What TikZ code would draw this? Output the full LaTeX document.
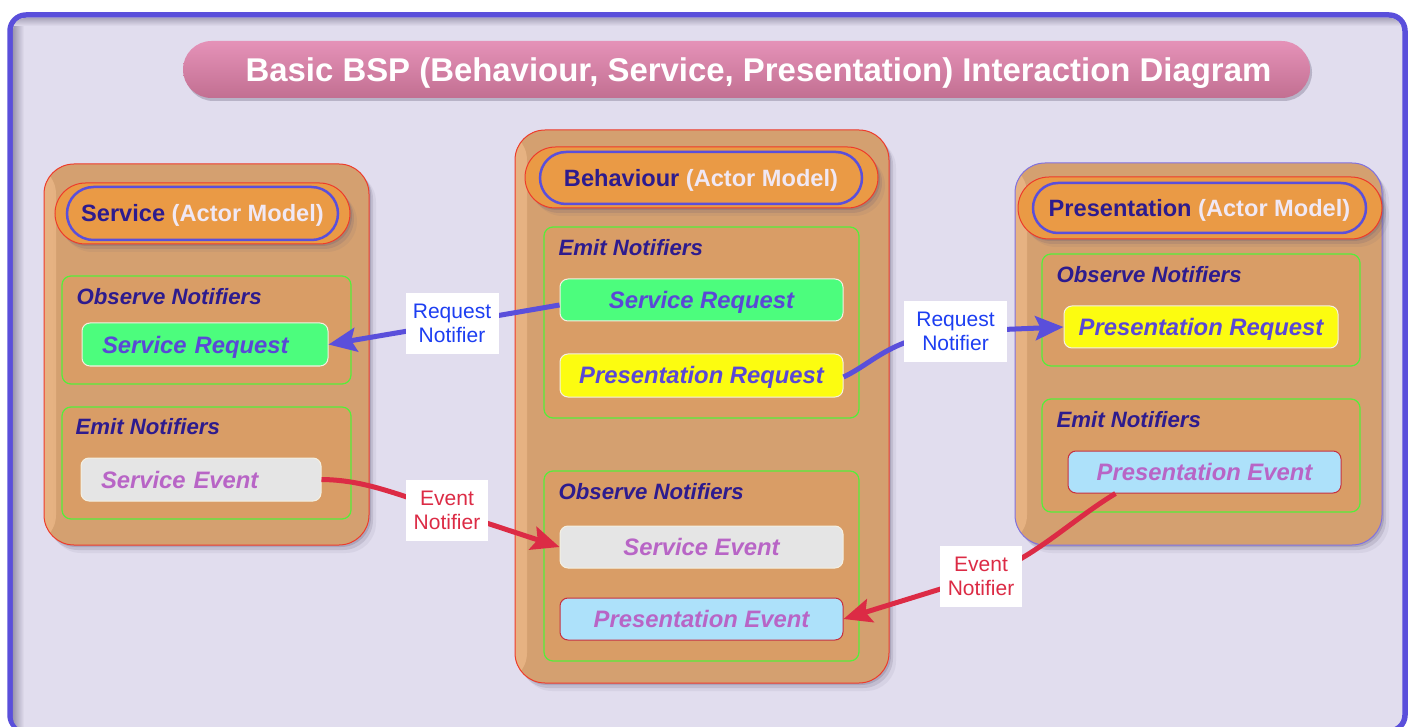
\documentclass[tikz,border=0pt]{standalone}
\usepackage{fontspec}
\setmainfont{Liberation Sans}
\usetikzlibrary{arrows.meta,shapes.misc,shadows,calc}

% palette
\definecolor{framec}{HTML}{5A4FDB}
\definecolor{bgc}{HTML}{E1DDEE}
\definecolor{titlec}{HTML}{CC7599}
\definecolor{titletop}{HTML}{E592B8}
\definecolor{boxfill}{HTML}{D4A070}
\definecolor{boxedge}{HTML}{E6B282}
\definecolor{boxred}{HTML}{EE3B2B}
\definecolor{presborder}{HTML}{8071E0}
\definecolor{pillc}{HTML}{EA9A45}
\definecolor{navy}{HTML}{2D1B8E}
\definecolor{lighttxt}{HTML}{F0E8F4}
\definecolor{grpgreen}{HTML}{55EE3A}
\definecolor{grpfill}{HTML}{D99D66}
\definecolor{reqgreen}{HTML}{4CFD7D}
\definecolor{reqyellow}{HTML}{FCFC10}
\definecolor{grayfill}{HTML}{E5E5E5}
\definecolor{lblue}{HTML}{ADE1FA}
\definecolor{itemred}{HTML}{C7303F}
\definecolor{itemwhite}{HTML}{F4F0E2}
\definecolor{itemtxt}{HTML}{5A48D6}
\definecolor{evtxt}{HTML}{B865C6}
\definecolor{reqtxt}{HTML}{1D3EF2}
\definecolor{evred}{HTML}{DC2B45}
\definecolor{shadowc}{HTML}{5A5470}

\newcommand\actorhdr[1]{{\color{navy}#1} {\color{lighttxt}(Actor Model)}}

\begin{document}
\begin{tikzpicture}[x=1pt,y=-1pt,
  softshadow/.style={
    general shadow={shadow xshift=2pt,shadow yshift=-2pt,fill=shadowc,opacity=.22},
    general shadow={shadow xshift=4pt,shadow yshift=-5pt,fill=shadowc,opacity=.16},
    general shadow={shadow xshift=7pt,shadow yshift=-8pt,fill=shadowc,opacity=.08}},
  actorbox/.style={rectangle,rounded corners=30pt,fill=boxfill,draw=boxred,
    line width=1pt,inner sep=0pt,softshadow,
    path picture={\shade[left color=boxedge,right color=boxfill]
      (path picture bounding box.north west) rectangle
      ([xshift=12pt]path picture bounding box.south west);}},
  hdrout/.style={rounded rectangle,fill=pillc,draw=boxred,line width=1pt,
    inner sep=0pt,softshadow},
  hdrin/.style={rounded rectangle,fill=pillc,draw=framec,line width=2.5pt,
    inner sep=0pt,font=\fontsize{23.6}{28}\selectfont\bfseries,
    text height=17pt,text depth=0pt},
  grp/.style={rectangle,rounded corners=9pt,draw=grpgreen,line width=1.2pt,
    fill=grpfill,inner sep=0pt},
  glabel/.style={anchor=base west,inner sep=0pt,text=navy,
    font=\fontsize{22.2}{26}\selectfont\bfseries\itshape},
  item/.style={rectangle,rounded corners=8pt,draw=itemwhite,line width=1pt,
    inner sep=0pt,minimum height=42pt,text=itemtxt,
    font=\fontsize{23.8}{28}\selectfont\bfseries\itshape,
    text height=17pt,text depth=0pt},
  evitem/.style={item,text=evtxt},
  lbl/.style={fill=white,inner sep=0pt,minimum height=61pt,align=center,
    font=\fontsize{21}{24}\selectfont},
  reqarrow/.style={draw=framec,line width=5pt,
    -{Stealth[length=28pt,width=24pt,inset=5pt]}},
  evarrow/.style={draw=evred,line width=5pt,
    -{Stealth[length=28pt,width=24pt,inset=5pt]}},
]
\useasboundingbox (0,0) rectangle (1414,727);
\fill[white] (0,0) rectangle (1414,727);

% outer frame with a soft inner shadow along the top and left
\draw[framec,line width=5.5pt,fill=bgc,rounded corners=16pt] (10,15) rectangle (1405,731);
\begin{scope}
  \clip[rounded corners=13pt] (12.75,17.75) rectangle (1402.25,730);
  \shade[left color=shadowc!55!bgc,right color=bgc] (12,15) rectangle (24,730);
  \shade[top color=shadowc!55!bgc,bottom color=bgc] (12,15) rectangle (1405,26);
\end{scope}

% title
\node[rounded rectangle,minimum width=1127pt,minimum height=57pt,inner sep=0pt,
  top color=titletop,middle color=titlec,bottom color=titlec!95!black,
  general shadow={shadow xshift=2pt,shadow yshift=-3pt,fill=shadowc,opacity=.3}]
  (ttlbg) at (746.5,69.5) {};
\node[text=white,inner sep=0pt,font=\fontsize{32.9}{38}\selectfont\bfseries,
  text height=24pt,text depth=0pt]
  (ttl) at (758.5,69.5) {Basic BSP (Behaviour, Service, Presentation) Interaction Diagram};

% actor containers
\node[actorbox,minimum width=325pt,minimum height=381pt] (svc) at (206.5,354.5) {};
\node[actorbox,minimum width=374pt,minimum height=553pt] (beh) at (702,406.5) {};
\node[actorbox,draw=presborder,minimum width=367pt,minimum height=382pt] (pres) at (1198.5,354) {};

% actor headers
\node[hdrout,minimum width=295pt,minimum height=61pt] (svcho) at (202.5,213.5) {};
\node[hdrin,minimum width=271pt,minimum height=53pt] (svch) at (202.5,213.5) {\actorhdr{Service}};
\node[hdrout,minimum width=353pt,minimum height=61pt] (behho) at (701.5,177.5) {};
\node[hdrin,minimum width=322pt,minimum height=52pt] (behh) at (701,178) {\actorhdr{Behaviour}};
\node[hdrout,minimum width=364pt,minimum height=62pt] (presho) at (1200,208) {};
\node[hdrin,minimum width=333pt,minimum height=50pt] (presh) at (1199.5,208) {\actorhdr{Presentation}};

% notifier groups
\node[grp,minimum width=289pt,minimum height=108pt] (svcobs) at (206.5,330) {};
\node[grp,minimum width=289pt,minimum height=112pt] (svcemit) at (206.5,463) {};
\node[grp,minimum width=315pt,minimum height=191pt] (behemit) at (701.5,322.5) {};
\node[grp,minimum width=315pt,minimum height=190pt] (behobs) at (701.5,566) {};
\node[grp,minimum width=318pt,minimum height=112pt] (presobs) at (1201,310) {};
\node[grp,minimum width=318pt,minimum height=113pt] (presemit) at (1201,455.5) {};

\node[glabel] (svcobsl) at ($(svcobs.north west)+(15,29)$) {Observe Notifiers};
\node[glabel] (svcemitl) at ($(svcemit.north west)+(14,28)$) {Emit Notifiers};
\node[glabel] (behemitl) at ($(behemit.north west)+(15,29)$) {Emit Notifiers};
\node[glabel] (behobsl) at ($(behobs.north west)+(15,29)$) {Observe Notifiers};
\node[glabel] (presobsl) at ($(presobs.north west)+(15,29)$) {Observe Notifiers};
\node[glabel] (presemitl) at ($(presemit.north west)+(15,29)$) {Emit Notifiers};

% notifiers
\node[item,fill=reqgreen,minimum height=43pt,text width=206pt,align=left,inner xsep=20pt]
  (ssr) at (205,344.5) {Service Request};
\node[evitem,fill=grayfill,minimum height=43pt,text width=200pt,align=left,inner xsep=20pt]
  (sse) at (201,479.5) {Service Event};
\node[item,fill=reqgreen,minimum width=283pt] (bsr) at (701.5,300) {Service Request};
\node[item,fill=reqyellow,minimum width=283pt,minimum height=43pt] (bpr) at (701.5,375.5) {Presentation Request};
\node[evitem,fill=grayfill,minimum width=283pt] (bse) at (701.5,547) {Service Event};
\node[evitem,fill=lblue,draw=itemred,minimum width=283pt] (bpe) at (701.5,619) {Presentation Event};
\node[item,fill=reqyellow,minimum width=274pt] (ppr) at (1201,327) {Presentation Request};
\node[evitem,fill=lblue,draw=itemred,minimum width=273pt] (ppe) at (1204.5,472) {Presentation Event};

% connectors
\coordinate (rq1c) at (452,323.5);
\coordinate (rq2c) at (955.5,331.5);
\coordinate (ev1c) at (447,510);
\coordinate (ev2c) at (981,576.5);

\draw[reqarrow] ($(bsr.west)+(0,5)$) -- (rq1c) -- (ssr.east);
\draw[reqarrow] ($(bpr.east)+(0,1.5)$) .. controls (875,362) and (890,338) .. (rq2c) -- (ppr.west);
\draw[evarrow] (sse.east) .. controls (365,480) and (395,494) .. (ev1c) -- (bse.west);
\draw[evarrow] ($(ppe.south west)+(48,0)$) .. controls (1070,521) and (1030,562) .. (ev2c) -- (bpe.east);

\node[lbl,text=reqtxt,minimum width=93pt] (rq1) at (rq1c) {Request\\Notifier};
\node[lbl,text=reqtxt,minimum width=103pt] (rq2) at (rq2c) {Request\\Notifier};
\node[lbl,text=evred,minimum width=82pt] (ev1) at (ev1c) {Event\\Notifier};
\node[lbl,text=evred,minimum width=82pt] (ev2) at (ev2c) {Event\\Notifier};
\end{tikzpicture}
\end{document}
